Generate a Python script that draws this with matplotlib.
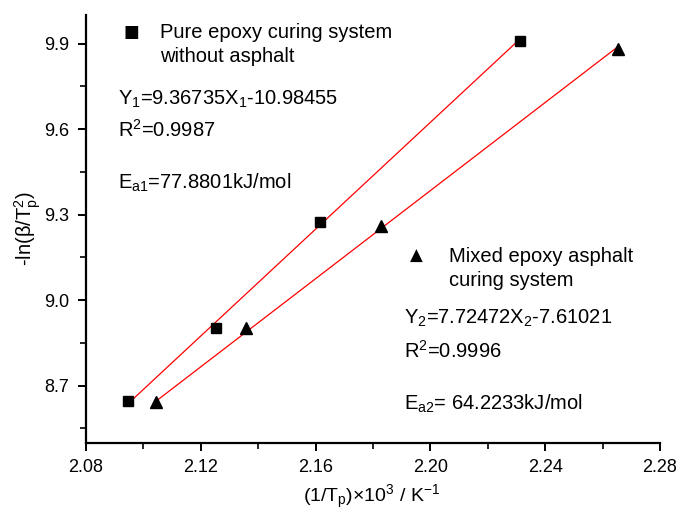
import matplotlib
matplotlib.use("Agg")
import matplotlib.pyplot as plt
from matplotlib.ticker import MultipleLocator
import numpy as np

plt.rcParams['font.family'] = ['Liberation Sans', 'DejaVu Sans']
plt.rcParams['mathtext.fontset'] = 'custom'
plt.rcParams['mathtext.rm'] = 'Liberation Sans'
plt.rcParams['mathtext.it'] = 'Liberation Sans:italic'
plt.rcParams['mathtext.default'] = 'regular'

# data
x_pure = [2.0946, 2.1254, 2.1614, 2.2312]
y_pure = [8.647, 8.904, 9.275, 9.909]
x_mixed = [2.1045, 2.1359, 2.1827, 2.2652]
y_mixed = [8.644, 8.902, 9.261, 9.882]
slope1, intercept1 = 9.36735, -10.98455
slope2, intercept2 = 7.72472, -7.61021
x_ticks = [2.08, 2.12, 2.16, 2.20, 2.24, 2.28]
y_ticks = [8.7, 9.0, 9.3, 9.6, 9.9]

fig = plt.figure(figsize=(6.77, 5.12), dpi=100)
ax = fig.add_axes([86/677, 1-442.7/512, (660-86)/677, (442.7-15)/512])

xf1 = np.array([min(x_pure), max(x_pure)])
xf2 = np.array([min(x_mixed), max(x_mixed)])
ax.plot(xf1, slope1*xf1 + intercept1, color='red', lw=0.9, zorder=2)
ax.plot(xf2, slope2*xf2 + intercept2, color='red', lw=0.9, zorder=2)
ax.plot(x_pure, y_pure, 's', color='black', ms=7.5, zorder=3)
ax.plot(x_mixed, y_mixed, '^', color='black', ms=8.5, zorder=3)

ax.set_xlim(2.08, 2.28)
ax.set_ylim(8.5, 10.0)
ax.set_xticks(x_ticks)
ax.set_xticklabels([f'{v:.2f}' for v in x_ticks])
ax.set_yticks(y_ticks)
ax.set_yticklabels([f'{v:.1f}' for v in y_ticks])
ax.xaxis.set_minor_locator(MultipleLocator(0.02))
ax.yaxis.set_minor_locator(MultipleLocator(0.15))
ax.spines['top'].set_visible(False)
ax.spines['right'].set_visible(False)
for s in ['left', 'bottom']:
    ax.spines[s].set_linewidth(1.6)
ax.tick_params(which='major', direction='out', length=6, width=1.4, labelsize=13, pad=6)
ax.tick_params(which='minor', direction='out', length=4, width=1.2)

ax.set_xlabel(r'(1/T$_p$)$\times$10$^3$ / K$^{-1}$', fontsize=14)
ax.set_ylabel(r'-ln($\beta$/T$_p^2$)', fontsize=14.5)
ax.xaxis.set_label_coords(0.498, -0.127)
ax.xaxis.label.set_va('center')
ax.yaxis.set_label_coords(-0.101, 0.5)
ax.yaxis.label.set_va('center')

def px(x, y):
    return (x/677, 1 - y/512)

fs = 14.5
fig.text(*px(131, 32), '\u25A0', fontsize=12, ha='center', va='center', family=['DejaVu Sans'])
fig.text(*px(160, 32), 'Pure epoxy curing system', fontsize=fs, va='center')
fig.text(*px(160, 57), 'without asphalt', fontsize=fs, va='center')
fig.text(*px(118, 99), r'Y$_1$=9.36735X$_1$-10.98455', fontsize=fs, va='center')
fig.text(*px(118, 130), r'R$^2$=0.9987', fontsize=fs, va='center')
fig.text(*px(118, 183), r'E$_{a1}$=77.8801kJ/mol', fontsize=fs, va='center')

fig.text(*px(416, 256), '\u25B2', fontsize=12, ha='center', va='center', family=['DejaVu Sans'])
fig.text(*px(449, 256), 'Mixed epoxy asphalt', fontsize=fs, va='center')
fig.text(*px(449, 281), 'curing system', fontsize=fs, va='center')
fig.text(*px(404, 318), r'Y$_2$=7.72472X$_2$-7.61021', fontsize=fs, va='center')
fig.text(*px(404, 351), r'R$^2$=0.9996', fontsize=fs, va='center')
fig.text(*px(404, 404), r'E$_{a2}$= 64.2233kJ/mol', fontsize=fs, va='center')

fig.savefig('out.png', dpi=100)
